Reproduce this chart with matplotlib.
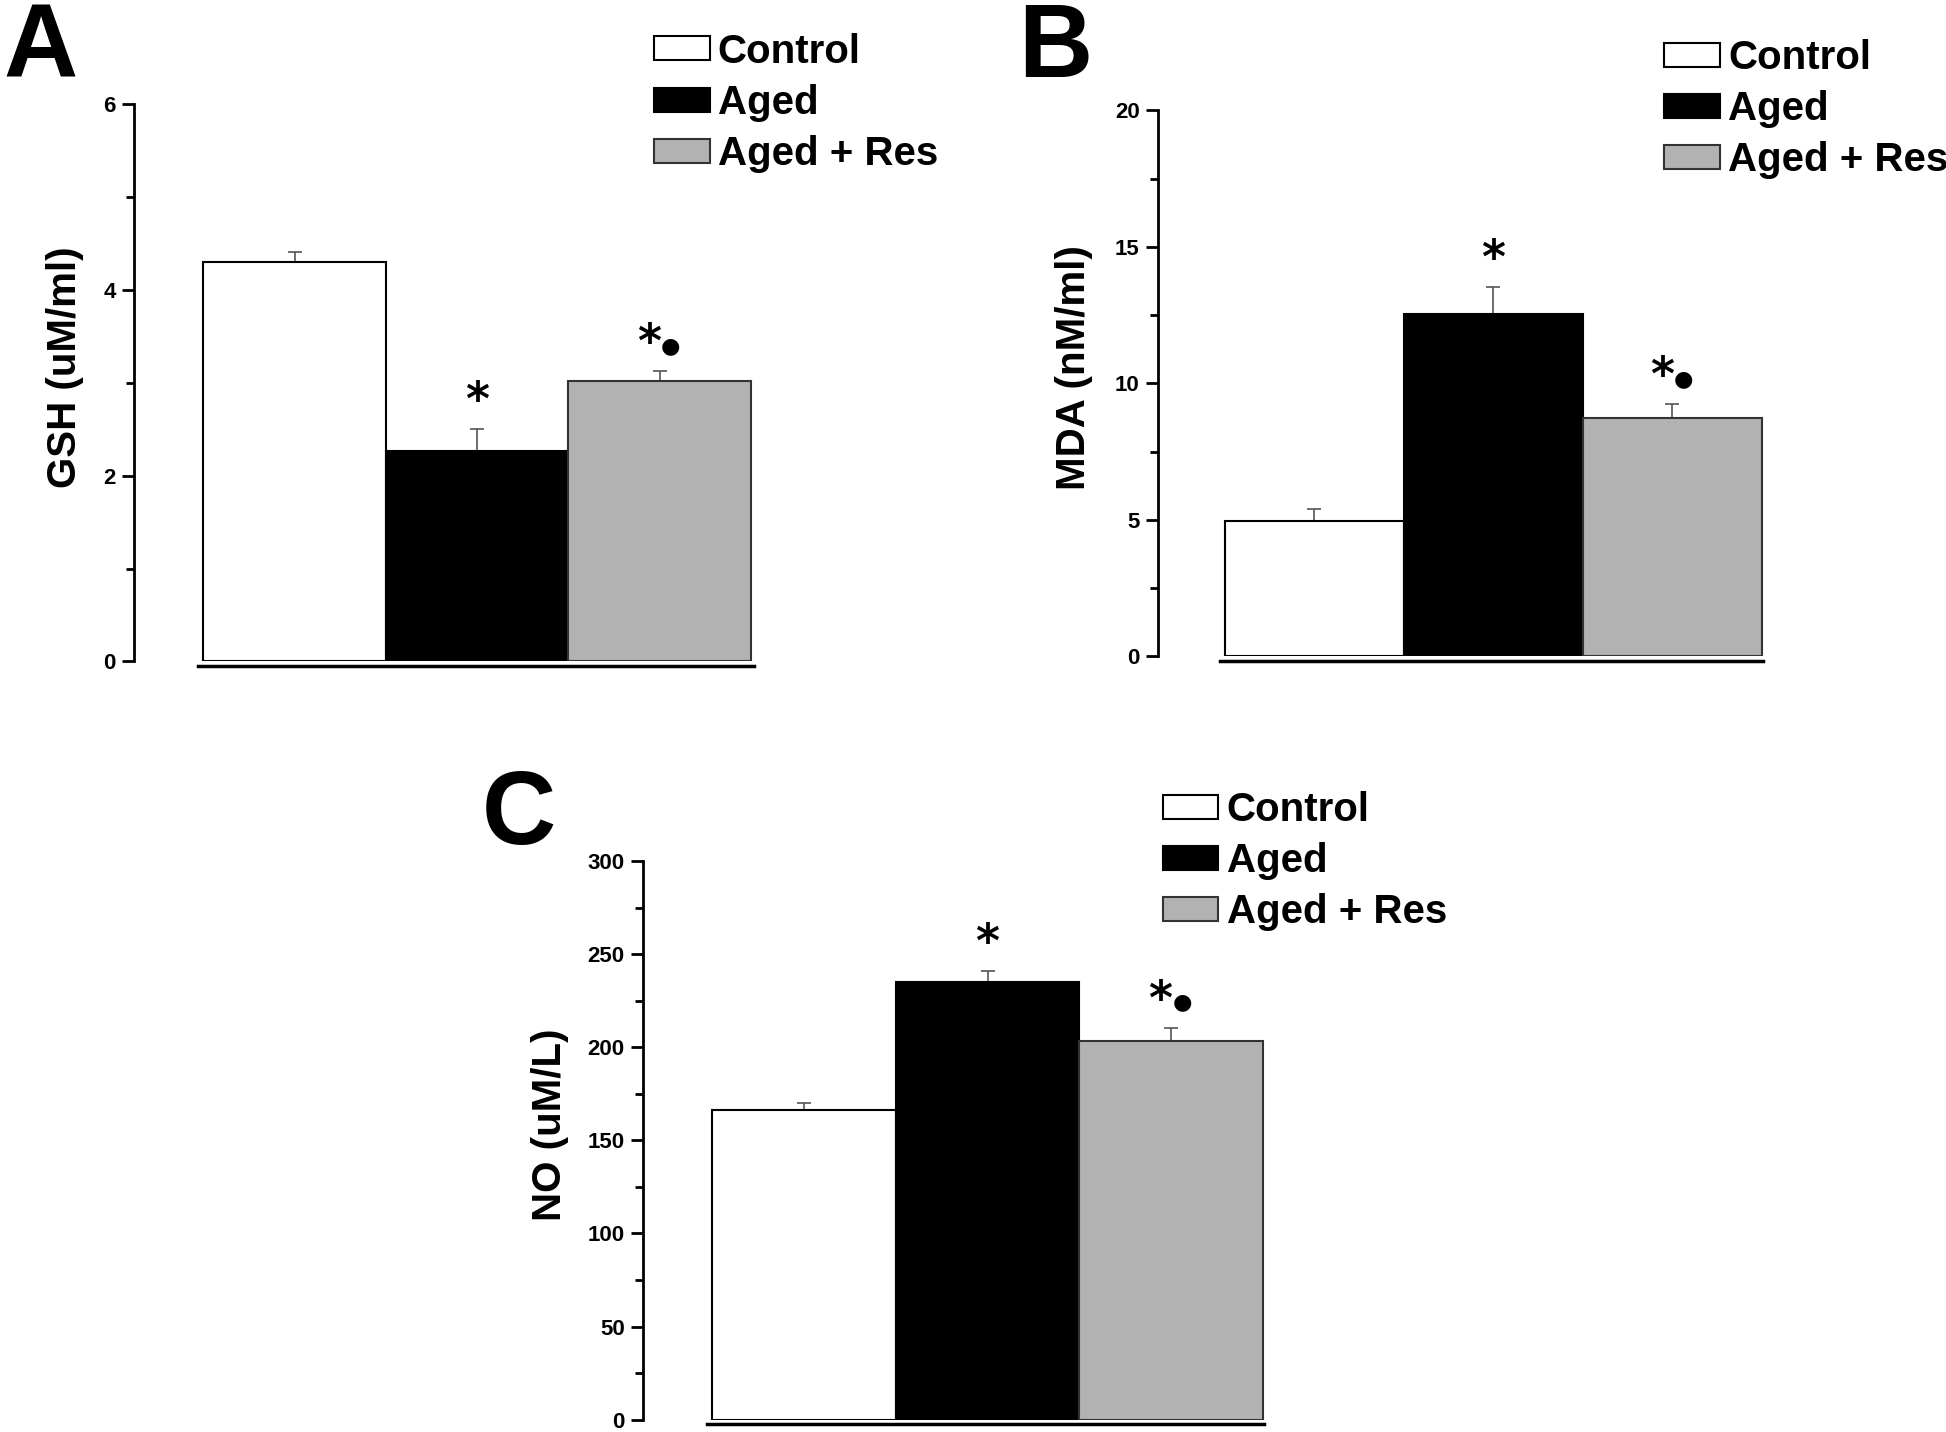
import matplotlib
matplotlib.use('Agg')
import matplotlib.pyplot as plt
from matplotlib.ticker import MultipleLocator

groups = ['Control', 'Aged', 'Aged + Res']
colors = ['white', 'black', '#b2b2b2']

gsh = [4.30, 2.27, 3.02]
gsh_err = [0.11, 0.23, 0.11]
mda = [4.97, 12.55, 8.73]
mda_err = [0.42, 1.00, 0.52]
no = [166.5, 234.9, 203.6]
no_err = [3.8, 6.0, 7.0]

# significance: * vs control, dot vs aged
star = [False, True, True]
dot = [False, False, True]

# panel boxes in reference pixels (x_left, x_right, y_bottom, y_top) of the 1568x1154 view
panels = [
    dict(letter='A', vals=gsh, err=gsh_err, ylabel='GSH (uM/ml)', ymax=6, major=2, minor=1,
         box=(108, 608, 533, 84), xmin=-0.88, xmax=2.52, letter_xy=(3, 62), leg_xy=(527, 83),
         ylab_xy=(52, 296)),
    dict(letter='B', vals=mda, err=mda_err, ylabel='MDA (nM/ml)', ymax=20, major=5, minor=2.5,
         box=(933, 1421, 529, 89), xmin=-0.875, xmax=2.51, letter_xy=(820, 62), leg_xy=(1341, 88),
         ylab_xy=(865, 296)),
    dict(letter='C', vals=no, err=no_err, ylabel='NO (uM/L)', ymax=300, major=50, minor=25,
         box=(518, 1019, 1144, 694), xmin=-0.878, xmax=2.51, letter_xy=(388, 680), leg_xy=(937, 694),
         ylab_xy=(443, 906)),
]

W, H = 1568.0, 1154.0
arial = ['Liberation Sans', 'DejaVu Sans']

fig = plt.figure(figsize=(19.46, 14.32), dpi=100)

for p in panels:
    xl, xr, yb, yt = p['box']
    ax = fig.add_axes([xl / W, 1 - yb / H, (xr - xl) / W, (yb - yt) / H])
    x = list(range(len(groups)))
    bars = ax.bar(x, p['vals'], width=1.0, color=colors, edgecolor=['black', 'black', '#333333'],
                  linewidth=1.5, zorder=2)
    ax.errorbar(x, p['vals'], yerr=[[0] * 3, p['err']], fmt='none', ecolor='#555555',
                elinewidth=1.2, capsize=5, capthick=1.2, zorder=1)
    for xi, v, e, s, d in zip(x, p['vals'], p['err'], star, dot):
        top = v + e
        if s and not d:
            ax.annotate('*', (xi, top), xytext=(0, 19), textcoords='offset points',
                        ha='center', va='center', fontsize=33, fontweight='bold',
                        family=['DejaVu Sans'])
        elif s and d:
            ax.annotate('*', (xi, top), xytext=(1, 19), textcoords='offset points',
                        ha='right', va='center', fontsize=33, fontweight='bold',
                        family=['DejaVu Sans'])
            ax.annotate('\u25CF', (xi, top), xytext=(1, 18), textcoords='offset points',
                        ha='left', va='center', fontsize=16, family=['DejaVu Sans'])
    ax.set_xlim(p['xmin'], p['xmax'])
    ax.set_ylim(0, p['ymax'])
    ax.spines['top'].set_visible(False)
    ax.spines['right'].set_visible(False)
    ax.spines['left'].set_linewidth(2)
    ax.spines['bottom'].set_linewidth(2.5)
    ax.spines['bottom'].set_bounds(-0.53, p['xmax'] - 0.005)
    ax.spines['bottom'].set_position(('outward', 3))
    ax.set_xticks([])
    ax.yaxis.set_major_locator(MultipleLocator(p['major']))
    ax.yaxis.set_minor_locator(MultipleLocator(p['minor']))
    ax.tick_params(axis='y', which='major', length=9, width=2, direction='out', pad=4)
    ax.tick_params(axis='y', which='minor', length=6, width=2, direction='out')
    for lab in ax.get_yticklabels():
        lab.set_fontfamily(arial)
        lab.set_fontweight('bold')
        lab.set_fontsize(16)
    fig.text(p['ylab_xy'][0] / W, 1 - p['ylab_xy'][1] / H, p['ylabel'], rotation=90,
             ha='center', va='center', fontsize=29, fontweight='bold', family=arial)
    fig.text(p['letter_xy'][0] / W, 1 - p['letter_xy'][1] / H, p['letter'], ha='left', va='baseline',
             fontsize=74, fontweight='bold', family=arial)
    ax.legend(bars, groups, loc='center left',
              bbox_to_anchor=(p['leg_xy'][0] / W, 1 - p['leg_xy'][1] / H),
              bbox_transform=fig.transFigure, frameon=False, borderpad=0, borderaxespad=0,
              handlelength=1.38, handleheight=0.54, handletextpad=0.2, labelspacing=0.33,
              prop=dict(family=arial, weight='bold', size=29))

fig.savefig('out.png', dpi=100)
